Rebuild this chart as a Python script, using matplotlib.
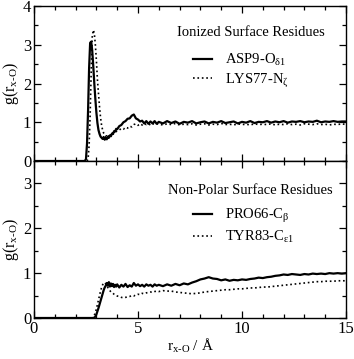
import matplotlib
matplotlib.use('Agg')
import matplotlib.pyplot as plt
from matplotlib.ticker import MultipleLocator

# r grid (Å), shared by all four curves
r = [0.0, 2.0,
     2.40, 2.45, 2.50, 2.55, 2.60, 2.65, 2.70, 2.75, 2.80, 2.85, 2.90, 2.95, 3.00, 3.05, 3.10, 3.15, 3.20,
     3.25, 3.30, 3.35, 3.40, 3.45, 3.50, 3.55, 3.60, 3.65, 3.70, 3.75, 3.80, 3.85, 3.90, 3.95, 4.00,
     4.1, 4.2, 4.3, 4.4, 4.5, 4.6, 4.7, 4.8, 4.9, 5.0, 5.1, 5.2, 5.3, 5.4, 5.5, 5.6, 5.7, 5.8, 5.9, 6.0,
     6.2, 6.4, 6.6, 6.8, 7.0, 7.2, 7.4, 7.6, 7.8, 8.0,
     8.2, 8.4, 8.6, 8.8, 9.0, 9.2, 9.4, 9.6, 9.8, 10.0,
     10.2, 10.4, 10.6, 10.8, 11.0, 11.2, 11.4, 11.6, 11.8, 12.0,
     12.2, 12.4, 12.6, 12.8, 13.0, 13.2, 13.4, 13.6, 13.8, 14.0,
     14.2, 14.4, 14.6, 14.8, 15.0]

# ionized surface residues
g_asp9 = [0.0, 0.0,
          0.0, 0.0, 0.05, 0.45, 1.3, 2.4, 3.05, 3.08, 2.85, 2.45, 2.0, 1.6, 1.25, 0.98, 0.8, 0.7, 0.63,
          0.6, 0.57, 0.62, 0.55, 0.6, 0.56, 0.63, 0.6, 0.66, 0.64, 0.71, 0.7, 0.77, 0.76, 0.83, 0.82,
          0.9, 0.93, 1.0, 1.03, 1.09, 1.1, 1.17, 1.2, 1.1, 1.07, 1.02, 1.04, 0.97, 1.03, 0.96, 1.02, 0.97, 1.03, 0.96, 1.01,
          0.97, 1.03, 0.98, 1.02, 0.96, 1.01, 0.99, 1.03, 0.97, 1.0,
          1.02, 0.97, 1.01, 0.99, 1.03, 0.98, 1.0, 1.02, 0.97, 1.01,
          0.99, 1.03, 0.98, 1.01, 1.0, 1.03, 0.99, 1.02, 1.0, 1.03,
          0.99, 1.02, 1.01, 1.03, 1.0, 1.02, 1.01, 1.04, 1.0, 1.02,
          1.01, 1.03, 1.01, 1.02, 1.02]
g_lys77 = [0.0, 0.0,
           0.0, 0.0, 0.0, 0.0, 0.05, 0.4, 1.2, 2.3, 3.2, 3.38, 3.3, 3.0, 2.6, 2.1, 1.75, 1.4, 1.12,
           0.92, 0.8, 0.72, 0.68, 0.64, 0.65, 0.62, 0.65, 0.66, 0.68, 0.7, 0.69, 0.73, 0.74, 0.76, 0.78,
           0.8, 0.84, 0.82, 0.87, 0.85, 0.9, 0.88, 0.94, 0.96, 0.92, 0.96, 0.93, 0.97, 0.94, 0.96, 0.93, 0.97, 0.94, 0.96, 0.95,
           0.93, 0.96, 0.94, 0.97, 0.93, 0.95, 0.94, 0.96, 0.93, 0.95,
           0.96, 0.93, 0.95, 0.94, 0.97, 0.94, 0.95, 0.93, 0.96, 0.94,
           0.95, 0.93, 0.96, 0.94, 0.95, 0.94, 0.96, 0.93, 0.95, 0.94,
           0.96, 0.94, 0.95, 0.93, 0.96, 0.95, 0.94, 0.96, 0.94, 0.95,
           0.93, 0.95, 0.94, 0.96, 0.94]

# non-polar surface residues
g_pro66 = [0.0, 0.0,
           0.0, 0.0, 0.0, 0.0, 0.0, 0.0, 0.0, 0.0, 0.0, 0.0, 0.01, 0.03, 0.08, 0.15, 0.22, 0.3, 0.38,
           0.46, 0.54, 0.62, 0.68, 0.72, 0.78, 0.72, 0.8, 0.7, 0.77, 0.71, 0.76, 0.69, 0.74, 0.7, 0.75,
           0.68, 0.74, 0.7, 0.76, 0.69, 0.73, 0.7, 0.78, 0.72, 0.75, 0.71, 0.74, 0.7, 0.75, 0.72, 0.74, 0.7, 0.75, 0.72, 0.74,
           0.71, 0.75, 0.72, 0.76, 0.73, 0.77, 0.75, 0.79, 0.82, 0.86,
           0.88, 0.91, 0.88, 0.87, 0.84, 0.86, 0.83, 0.85, 0.84, 0.86,
           0.85, 0.87, 0.88, 0.9, 0.89, 0.91, 0.92, 0.94, 0.95, 0.97,
           0.96, 0.98, 0.97, 0.96, 0.98, 0.97, 0.99, 0.98, 0.99, 0.98,
           1.0, 0.99, 1.0, 0.99, 1.0]
g_tyr83 = [0.0, 0.0,
           0.0, 0.0, 0.0, 0.0, 0.0, 0.0, 0.0, 0.0, 0.0, 0.02, 0.06, 0.12, 0.2, 0.3, 0.4, 0.5, 0.6,
           0.68, 0.74, 0.78, 0.79, 0.76, 0.72, 0.68, 0.64, 0.61, 0.58, 0.56, 0.55, 0.53, 0.52, 0.5, 0.49,
           0.48, 0.46, 0.45, 0.46, 0.47, 0.48, 0.5, 0.49, 0.52, 0.53, 0.52, 0.55, 0.54, 0.56, 0.57, 0.58, 0.57, 0.59, 0.6, 0.59,
           0.61, 0.6, 0.6, 0.58, 0.57, 0.56, 0.55, 0.54, 0.55, 0.56,
           0.58, 0.59, 0.6, 0.61, 0.62, 0.63, 0.63, 0.64, 0.65, 0.65,
           0.66, 0.67, 0.67, 0.68, 0.69, 0.69, 0.7, 0.71, 0.72, 0.73,
           0.74, 0.75, 0.76, 0.77, 0.78, 0.79, 0.8, 0.81, 0.81, 0.82,
           0.82, 0.82, 0.83, 0.83, 0.83]

plt.rcParams['font.family'] = ['Liberation Serif', 'DejaVu Serif']
plt.rcParams['mathtext.fontset'] = 'custom'
plt.rcParams['mathtext.rm'] = 'Liberation Serif'
plt.rcParams['mathtext.it'] = 'Liberation Serif:italic'
plt.rcParams['axes.linewidth'] = 1.0

fig = plt.figure(figsize=(3.54, 3.59), dpi=100)
ax1 = fig.add_axes([0.096, 0.5515, 0.8814, 0.4318])
ax2 = fig.add_axes([0.096, 0.1142, 0.8814, 0.4373])

ylab = r'g(r$_{\mathrm{x\text{-}O}}$)'

def style(ax, ytop):
    ax.set_xlim(0, 15)
    ax.set_ylim(0, ytop)
    ax.xaxis.set_major_locator(MultipleLocator(5))
    ax.xaxis.set_minor_locator(MultipleLocator(1))
    ax.yaxis.set_major_locator(MultipleLocator(1))
    ax.yaxis.set_minor_locator(MultipleLocator(0.5))
    ax.tick_params(which='both', direction='in', top=True, right=True, labelsize=12, width=0.9)
    ax.tick_params(which='major', length=5, pad=2)
    ax.tick_params(which='minor', length=3)
    ax.set_ylabel(ylab, fontsize=11.5, labelpad=1)

# top panel
ax1.plot(r, g_asp9, color='black', lw=1.6, ls='-', label=r'ASP9-O$_{\mathrm{δ1}}$')
ax1.plot(r, g_lys77, color='black', lw=1.2, ls=':', label=r'LYS77-N$_{\mathrm{ζ}}$')
style(ax1, 4)
ax1.set_yticks([0, 1, 2, 3, 4])
ax1.tick_params(labelbottom=False)
ax1.text(0.695, 0.832, 'Ionized Surface Residues', transform=ax1.transAxes,
         ha='center', va='center', fontsize=10.5)
ax1.legend(loc='upper left', bbox_to_anchor=(0.51, 0.705), frameon=False, fontsize=10.5,
           handlelength=1.3, handletextpad=0.9, labelspacing=0.25, borderpad=0, borderaxespad=0)

# bottom panel
ax2.plot(r, g_pro66, color='black', lw=1.6, ls='-', label=r'PRO66-C$_{\mathrm{β}}$')
ax2.plot(r, g_tyr83, color='black', lw=1.2, ls=':', label=r'TYR83-C$_{\mathrm{ε1}}$')
style(ax2, 3.5)
ax2.set_yticks([0, 1, 2, 3])
ax2.text(0.693, 0.815, 'Non-Polar Surface Residues', transform=ax2.transAxes,
         ha='center', va='center', fontsize=10.5)
ax2.legend(loc='upper left', bbox_to_anchor=(0.51, 0.705), frameon=False, fontsize=10.5,
           handlelength=1.3, handletextpad=0.9, labelspacing=0.25, borderpad=0, borderaxespad=0)
ax2.set_xlabel(r'r$_{\mathrm{x\text{-}O}}$ / Å', fontsize=11, labelpad=0)

fig.savefig('out.png', dpi=100)
